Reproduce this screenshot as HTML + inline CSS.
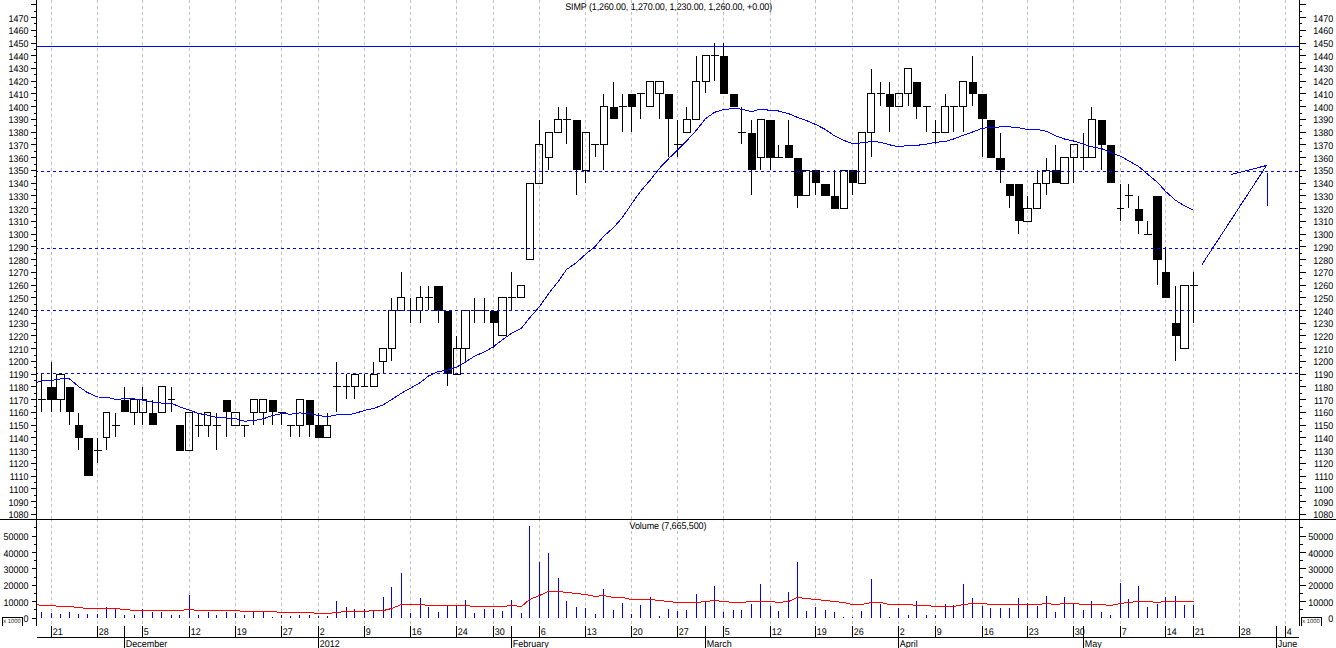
<!DOCTYPE html>
<html>
<head>
<meta charset="utf-8">
<title>SIMP chart</title>
<style>
html,body{margin:0;padding:0;background:#ffffff;}
body{width:1336px;height:648px;overflow:hidden;font-family:"Liberation Sans",sans-serif;}
svg{display:block;}
</style>
</head>
<body>
<svg width="1336" height="648" viewBox="0 0 1336 648" shape-rendering="crispEdges">
<defs><clipPath id="pp"><rect x="0" y="0" width="1336" height="519"/></clipPath></defs>
<rect x="0" y="0" width="1336" height="648" fill="#ffffff"/>
<g stroke="#c0c0c0" stroke-width="1" stroke-dasharray="3 3" fill="none">
<path d="M51.5 0V519"/><path d="M51.5 520V624" stroke-dashoffset="1"/>
<path d="M97.5 0V519"/><path d="M97.5 520V624" stroke-dashoffset="1"/>
<path d="M142.5 0V519"/><path d="M142.5 520V624" stroke-dashoffset="1"/>
<path d="M189.5 0V519"/><path d="M189.5 520V624" stroke-dashoffset="1"/>
<path d="M235.5 0V519"/><path d="M235.5 520V624" stroke-dashoffset="1"/>
<path d="M281.5 0V519"/><path d="M281.5 520V624" stroke-dashoffset="1"/>
<path d="M318.5 0V519"/><path d="M318.5 520V624" stroke-dashoffset="1"/>
<path d="M364.5 0V519"/><path d="M364.5 520V624" stroke-dashoffset="1"/>
<path d="M410.5 0V519"/><path d="M410.5 520V624" stroke-dashoffset="1"/>
<path d="M456.5 0V519"/><path d="M456.5 520V624" stroke-dashoffset="1"/>
<path d="M493.5 0V519"/><path d="M493.5 520V624" stroke-dashoffset="1"/>
<path d="M539.5 0V519"/><path d="M539.5 520V624" stroke-dashoffset="1"/>
<path d="M585.5 0V519"/><path d="M585.5 520V624" stroke-dashoffset="1"/>
<path d="M631.5 0V519"/><path d="M631.5 520V624" stroke-dashoffset="1"/>
<path d="M677.5 0V519"/><path d="M677.5 520V624" stroke-dashoffset="1"/>
<path d="M723.5 0V519"/><path d="M723.5 520V624" stroke-dashoffset="1"/>
<path d="M770.5 0V519"/><path d="M770.5 520V624" stroke-dashoffset="1"/>
<path d="M815.5 0V519"/><path d="M815.5 520V624" stroke-dashoffset="1"/>
<path d="M852.5 0V519"/><path d="M852.5 520V624" stroke-dashoffset="1"/>
<path d="M898.5 0V519"/><path d="M898.5 520V624" stroke-dashoffset="1"/>
<path d="M935.5 0V519"/><path d="M935.5 520V624" stroke-dashoffset="1"/>
<path d="M982.5 0V519"/><path d="M982.5 520V624" stroke-dashoffset="1"/>
<path d="M1027.5 0V519"/><path d="M1027.5 520V624" stroke-dashoffset="1"/>
<path d="M1073.5 0V519"/><path d="M1073.5 520V624" stroke-dashoffset="1"/>
<path d="M1120.5 0V519"/><path d="M1120.5 520V624" stroke-dashoffset="1"/>
<path d="M1165.5 0V519"/><path d="M1165.5 520V624" stroke-dashoffset="1"/>
<path d="M1193.5 0V519"/><path d="M1193.5 520V624" stroke-dashoffset="1"/>
<path d="M1239.5 0V519"/><path d="M1239.5 520V624" stroke-dashoffset="1"/>
<path d="M1285.5 0V519"/><path d="M1285.5 520V624" stroke-dashoffset="1"/>
</g>
<g fill="#0000ff">
<rect x="41" y="612" width="1" height="6"/>
<rect x="51" y="613" width="1" height="5"/>
<rect x="60" y="614" width="1" height="4"/>
<rect x="69" y="612" width="1" height="6"/>
<rect x="78" y="614" width="1" height="4"/>
<rect x="87" y="614" width="1" height="4"/>
<rect x="97" y="614" width="1" height="4"/>
<rect x="106" y="607" width="1" height="11"/>
<rect x="115" y="609" width="1" height="9"/>
<rect x="124" y="615" width="1" height="3"/>
<rect x="134" y="615" width="1" height="3"/>
<rect x="142" y="609" width="1" height="9"/>
<rect x="152" y="612" width="1" height="6"/>
<rect x="161" y="612" width="1" height="6"/>
<rect x="171" y="615" width="1" height="3"/>
<rect x="179" y="615" width="1" height="3"/>
<rect x="189" y="595" width="1" height="23"/>
<rect x="198" y="615" width="1" height="3"/>
<rect x="208" y="612" width="1" height="6"/>
<rect x="216" y="615" width="1" height="3"/>
<rect x="226" y="612" width="1" height="6"/>
<rect x="235" y="613" width="1" height="5"/>
<rect x="244" y="615" width="1" height="3"/>
<rect x="253" y="611" width="1" height="7"/>
<rect x="263" y="611" width="1" height="7"/>
<rect x="272" y="617" width="1" height="1"/>
<rect x="281" y="615" width="1" height="3"/>
<rect x="290" y="616" width="1" height="2"/>
<rect x="299" y="615" width="1" height="3"/>
<rect x="309" y="615" width="1" height="3"/>
<rect x="318" y="616" width="1" height="2"/>
<rect x="327" y="616" width="1" height="2"/>
<rect x="336" y="601" width="1" height="17"/>
<rect x="346" y="607" width="1" height="11"/>
<rect x="354" y="609" width="1" height="9"/>
<rect x="364" y="609" width="1" height="9"/>
<rect x="373" y="611" width="1" height="7"/>
<rect x="383" y="597" width="1" height="21"/>
<rect x="391" y="587" width="1" height="31"/>
<rect x="401" y="573" width="1" height="45"/>
<rect x="410" y="613" width="1" height="5"/>
<rect x="420" y="598" width="1" height="20"/>
<rect x="428" y="607" width="1" height="11"/>
<rect x="438" y="612" width="1" height="6"/>
<rect x="447" y="606" width="1" height="12"/>
<rect x="456" y="605" width="1" height="13"/>
<rect x="465" y="600" width="1" height="18"/>
<rect x="474" y="613" width="1" height="5"/>
<rect x="484" y="609" width="1" height="9"/>
<rect x="493" y="609" width="1" height="9"/>
<rect x="502" y="611" width="1" height="7"/>
<rect x="511" y="600" width="1" height="18"/>
<rect x="521" y="613" width="1" height="5"/>
<rect x="529" y="526" width="1" height="92"/>
<rect x="539" y="562" width="1" height="56"/>
<rect x="548" y="553" width="1" height="65"/>
<rect x="558" y="578" width="1" height="40"/>
<rect x="566" y="601" width="1" height="17"/>
<rect x="576" y="607" width="1" height="11"/>
<rect x="585" y="608" width="1" height="10"/>
<rect x="595" y="614" width="1" height="4"/>
<rect x="603" y="589" width="1" height="29"/>
<rect x="613" y="610" width="1" height="8"/>
<rect x="622" y="603" width="1" height="15"/>
<rect x="631" y="614" width="1" height="4"/>
<rect x="640" y="605" width="1" height="13"/>
<rect x="650" y="597" width="1" height="21"/>
<rect x="659" y="616" width="1" height="2"/>
<rect x="668" y="609" width="1" height="9"/>
<rect x="677" y="611" width="1" height="7"/>
<rect x="686" y="610" width="1" height="8"/>
<rect x="696" y="594" width="1" height="24"/>
<rect x="705" y="602" width="1" height="16"/>
<rect x="714" y="586" width="1" height="32"/>
<rect x="723" y="612" width="1" height="6"/>
<rect x="733" y="610" width="1" height="8"/>
<rect x="741" y="610" width="1" height="8"/>
<rect x="751" y="604" width="1" height="14"/>
<rect x="760" y="584" width="1" height="34"/>
<rect x="770" y="606" width="1" height="12"/>
<rect x="778" y="611" width="1" height="7"/>
<rect x="788" y="592" width="1" height="26"/>
<rect x="797" y="562" width="1" height="56"/>
<rect x="806" y="611" width="1" height="7"/>
<rect x="815" y="607" width="1" height="11"/>
<rect x="825" y="610" width="1" height="8"/>
<rect x="834" y="612" width="1" height="6"/>
<rect x="843" y="617" width="1" height="1"/>
<rect x="852" y="617" width="1" height="1"/>
<rect x="861" y="611" width="1" height="7"/>
<rect x="871" y="579" width="1" height="39"/>
<rect x="880" y="604" width="1" height="14"/>
<rect x="889" y="617" width="1" height="1"/>
<rect x="898" y="608" width="1" height="10"/>
<rect x="908" y="615" width="1" height="3"/>
<rect x="916" y="601" width="1" height="17"/>
<rect x="926" y="615" width="1" height="3"/>
<rect x="935" y="615" width="1" height="3"/>
<rect x="945" y="604" width="1" height="14"/>
<rect x="953" y="605" width="1" height="13"/>
<rect x="963" y="584" width="1" height="34"/>
<rect x="972" y="598" width="1" height="20"/>
<rect x="982" y="606" width="1" height="12"/>
<rect x="990" y="608" width="1" height="10"/>
<rect x="1000" y="608" width="1" height="10"/>
<rect x="1009" y="608" width="1" height="10"/>
<rect x="1018" y="598" width="1" height="20"/>
<rect x="1027" y="603" width="1" height="15"/>
<rect x="1037" y="606" width="1" height="12"/>
<rect x="1046" y="596" width="1" height="22"/>
<rect x="1055" y="612" width="1" height="6"/>
<rect x="1064" y="597" width="1" height="21"/>
<rect x="1073" y="604" width="1" height="14"/>
<rect x="1083" y="610" width="1" height="8"/>
<rect x="1091" y="601" width="1" height="17"/>
<rect x="1101" y="612" width="1" height="6"/>
<rect x="1110" y="615" width="1" height="3"/>
<rect x="1120" y="583" width="1" height="35"/>
<rect x="1128" y="599" width="1" height="19"/>
<rect x="1138" y="586" width="1" height="32"/>
<rect x="1147" y="607" width="1" height="11"/>
<rect x="1157" y="604" width="1" height="14"/>
<rect x="1165" y="597" width="1" height="21"/>
<rect x="1175" y="596" width="1" height="22"/>
<rect x="1184" y="605" width="1" height="13"/>
<rect x="1193" y="605" width="1" height="13"/>
</g>
<polyline points="37,604.5 41.5,605.5 51.5,605.5 60.5,606.5 69.5,606.5 78.5,607.5 87.5,608.5 97.5,608.5 106.5,608.5 115.5,608.5 124.5,609.5 134.5,610.5 142.5,610.5 152.5,610.5 161.5,610.5 171.5,610.5 179.5,610.5 189.5,609.5 198.5,610.5 208.5,610.5 216.5,610.5 226.5,610.5 235.5,610.5 244.5,611.5 253.5,611.5 263.5,611.5 272.5,611.5 281.5,612.5 290.5,612.5 299.5,612.5 309.5,612.5 318.5,613.5 327.5,613.5 336.5,612.5 346.5,611.5 354.5,611.5 364.5,611.5 373.5,610.5 383.5,610.5 391.5,608.5 401.5,604.5 410.5,604.5 420.5,604.5 428.5,605.5 438.5,605.5 447.5,605.5 456.5,605.5 465.5,605.5 474.5,606.5 484.5,606.5 493.5,606.5 502.5,606.5 511.5,605.5 521.5,606.5 529.5,599.5 539.5,595.5 548.5,591.5 558.5,591.5 566.5,592.5 576.5,593.5 585.5,594.5 595.5,596.5 603.5,595.5 613.5,597.5 622.5,597.5 631.5,599.5 640.5,599.5 650.5,599.5 659.5,600.5 668.5,601.5 677.5,602.5 686.5,602.5 696.5,602.5 705.5,601.5 714.5,600.5 723.5,601.5 733.5,602.5 741.5,602.5 751.5,601.5 760.5,601.5 770.5,601.5 778.5,602.5 788.5,601.5 797.5,597.5 806.5,598.5 815.5,599.5 825.5,600.5 834.5,601.5 843.5,602.5 852.5,604.5 861.5,604.5 871.5,602.5 880.5,602.5 889.5,604.5 898.5,604.5 908.5,604.5 916.5,605.5 926.5,605.5 935.5,606.5 945.5,606.5 953.5,606.5 963.5,604.5 972.5,603.5 982.5,603.5 990.5,604.5 1000.5,604.5 1009.5,604.5 1018.5,604.5 1027.5,604.5 1037.5,604.5 1046.5,603.5 1055.5,604.5 1064.5,603.5 1073.5,603.5 1083.5,604.5 1091.5,604.5 1101.5,604.5 1110.5,605.5 1120.5,603.5 1128.5,602.5 1138.5,601.5 1147.5,601.5 1157.5,602.5 1165.5,601.5 1175.5,601.5 1184.5,601.5 1193.5,601.5" fill="none" stroke="#ff0000" stroke-width="1" shape-rendering="crispEdges"/>
<g fill="#000000">
<rect x="41" y="374" width="1" height="38"/>
<rect x="38" y="399" width="8" height="1"/>
<rect x="51" y="362" width="1" height="25"/>
<rect x="51" y="400" width="1" height="12"/>
<rect x="47" y="387" width="9" height="13"/>
<rect x="60" y="400" width="1" height="12"/>
<path d="M56 374h9v26h-9z M57 375v24h7v-24z" fill-rule="evenodd"/>
<rect x="69" y="412" width="1" height="13"/>
<rect x="66" y="387" width="8" height="25"/>
<rect x="78" y="413" width="1" height="12"/>
<rect x="78" y="438" width="1" height="12"/>
<rect x="75" y="425" width="8" height="13"/>
<rect x="84" y="438" width="9" height="38"/>
<rect x="97" y="438" width="1" height="25"/>
<rect x="94" y="450" width="8" height="1"/>
<rect x="106" y="438" width="1" height="12"/>
<path d="M103 412h7v26h-7z M104 413v24h5v-24z" fill-rule="evenodd"/>
<rect x="115" y="413" width="1" height="24"/>
<rect x="112" y="425" width="8" height="1"/>
<rect x="124" y="387" width="1" height="13"/>
<rect x="121" y="400" width="8" height="12"/>
<rect x="134" y="413" width="1" height="12"/>
<path d="M130 399h8v14h-8z M131 400v12h6v-12z" fill-rule="evenodd"/>
<rect x="142" y="387" width="1" height="12"/>
<rect x="142" y="413" width="1" height="12"/>
<path d="M139 399h8v14h-8z M140 400v12h6v-12z" fill-rule="evenodd"/>
<rect x="152" y="400" width="1" height="13"/>
<rect x="149" y="413" width="8" height="12"/>
<path d="M158 386h8v27h-8z M159 387v25h6v-25z" fill-rule="evenodd"/>
<rect x="171" y="387" width="1" height="25"/>
<rect x="168" y="399" width="7" height="1"/>
<rect x="176" y="425" width="8" height="26"/>
<path d="M185 412h8v39h-8z M186 413v37h6v-37z" fill-rule="evenodd"/>
<rect x="198" y="413" width="1" height="24"/>
<rect x="195" y="425" width="8" height="1"/>
<rect x="208" y="426" width="1" height="11"/>
<path d="M204 412h7v14h-7z M205 413v12h5v-12z" fill-rule="evenodd"/>
<rect x="216" y="413" width="1" height="37"/>
<rect x="213" y="425" width="8" height="1"/>
<rect x="226" y="412" width="1" height="25"/>
<rect x="223" y="400" width="8" height="12"/>
<path d="M231 412h9v14h-9z M232 413v12h7v-12z" fill-rule="evenodd"/>
<rect x="244" y="425" width="1" height="12"/>
<rect x="241" y="425" width="8" height="1"/>
<rect x="253" y="413" width="1" height="12"/>
<path d="M250 399h8v14h-8z M251 400v12h6v-12z" fill-rule="evenodd"/>
<rect x="263" y="413" width="1" height="12"/>
<path d="M259 399h8v14h-8z M260 400v12h6v-12z" fill-rule="evenodd"/>
<rect x="272" y="412" width="1" height="13"/>
<rect x="269" y="400" width="8" height="12"/>
<rect x="281" y="413" width="1" height="12"/>
<rect x="278" y="412" width="8" height="1"/>
<rect x="290" y="425" width="1" height="12"/>
<rect x="287" y="425" width="8" height="1"/>
<rect x="299" y="426" width="1" height="11"/>
<path d="M296 399h8v27h-8z M297 400v25h6v-25z" fill-rule="evenodd"/>
<rect x="309" y="425" width="1" height="12"/>
<rect x="306" y="400" width="8" height="25"/>
<rect x="318" y="413" width="1" height="12"/>
<rect x="315" y="425" width="8" height="13"/>
<rect x="327" y="413" width="1" height="12"/>
<path d="M323 425h8v13h-8z M324 426v11h6v-11z" fill-rule="evenodd"/>
<rect x="336" y="362" width="1" height="50"/>
<rect x="333" y="386" width="8" height="1"/>
<rect x="346" y="374" width="1" height="25"/>
<rect x="343" y="386" width="7" height="1"/>
<rect x="354" y="387" width="1" height="12"/>
<path d="M351 374h8v13h-8z M352 375v11h6v-11z" fill-rule="evenodd"/>
<rect x="364" y="374" width="1" height="12"/>
<rect x="361" y="386" width="7" height="1"/>
<rect x="373" y="362" width="1" height="12"/>
<path d="M370 374h8v13h-8z M371 375v11h6v-11z" fill-rule="evenodd"/>
<rect x="383" y="362" width="1" height="12"/>
<path d="M379 348h8v14h-8z M380 349v12h6v-12z" fill-rule="evenodd"/>
<rect x="391" y="298" width="1" height="12"/>
<rect x="391" y="349" width="1" height="12"/>
<path d="M388 310h8v39h-8z M389 311v37h6v-37z" fill-rule="evenodd"/>
<rect x="401" y="272" width="1" height="25"/>
<path d="M397 297h8v14h-8z M398 298v12h6v-12z" fill-rule="evenodd"/>
<rect x="410" y="298" width="1" height="25"/>
<rect x="407" y="310" width="8" height="1"/>
<rect x="420" y="286" width="1" height="11"/>
<rect x="420" y="311" width="1" height="12"/>
<path d="M416 297h7v14h-7z M417 298v12h5v-12z" fill-rule="evenodd"/>
<rect x="428" y="286" width="1" height="24"/>
<rect x="425" y="297" width="8" height="1"/>
<rect x="438" y="311" width="1" height="12"/>
<rect x="434" y="286" width="9" height="25"/>
<rect x="447" y="374" width="1" height="12"/>
<rect x="444" y="311" width="8" height="63"/>
<rect x="456" y="336" width="1" height="12"/>
<path d="M453 348h8v27h-8z M454 349v25h6v-25z" fill-rule="evenodd"/>
<rect x="465" y="349" width="1" height="12"/>
<path d="M461 310h9v39h-9z M462 311v37h7v-37z" fill-rule="evenodd"/>
<rect x="474" y="298" width="1" height="25"/>
<rect x="471" y="310" width="8" height="1"/>
<rect x="484" y="298" width="1" height="25"/>
<rect x="481" y="310" width="8" height="1"/>
<rect x="493" y="323" width="1" height="25"/>
<rect x="490" y="311" width="8" height="12"/>
<path d="M498 297h9v39h-9z M499 298v37h7v-37z" fill-rule="evenodd"/>
<rect x="511" y="272" width="1" height="38"/>
<rect x="508" y="297" width="8" height="1"/>
<path d="M517 285h8v13h-8z M518 286v11h6v-11z" fill-rule="evenodd"/>
<path d="M526 183h8v77h-8z M527 184v75h6v-75z" fill-rule="evenodd"/>
<rect x="539" y="120" width="1" height="24"/>
<path d="M535 144h8v40h-8z M536 145v38h6v-38z" fill-rule="evenodd"/>
<rect x="548" y="158" width="1" height="12"/>
<path d="M545 132h8v26h-8z M546 133v24h6v-24z" fill-rule="evenodd"/>
<rect x="558" y="107" width="1" height="12"/>
<path d="M554 119h8v14h-8z M555 120v12h6v-12z" fill-rule="evenodd"/>
<rect x="566" y="107" width="1" height="37"/>
<rect x="563" y="119" width="8" height="1"/>
<rect x="576" y="170" width="1" height="25"/>
<rect x="573" y="120" width="8" height="50"/>
<rect x="585" y="171" width="1" height="12"/>
<path d="M582 132h8v39h-8z M583 133v37h6v-37z" fill-rule="evenodd"/>
<rect x="595" y="145" width="1" height="12"/>
<rect x="591" y="144" width="8" height="1"/>
<rect x="603" y="94" width="1" height="12"/>
<rect x="603" y="145" width="1" height="25"/>
<path d="M600 106h8v39h-8z M601 107v37h6v-37z" fill-rule="evenodd"/>
<rect x="613" y="82" width="1" height="25"/>
<rect x="610" y="107" width="8" height="12"/>
<rect x="622" y="94" width="1" height="38"/>
<rect x="619" y="106" width="8" height="1"/>
<rect x="631" y="107" width="1" height="25"/>
<rect x="628" y="94" width="8" height="13"/>
<rect x="640" y="94" width="1" height="25"/>
<rect x="637" y="93" width="8" height="1"/>
<path d="M646 81h8v26h-8z M647 82v24h6v-24z" fill-rule="evenodd"/>
<rect x="659" y="94" width="1" height="25"/>
<path d="M655 81h9v13h-9z M656 82v11h7v-11z" fill-rule="evenodd"/>
<rect x="668" y="119" width="1" height="38"/>
<rect x="665" y="94" width="8" height="25"/>
<rect x="677" y="120" width="1" height="37"/>
<rect x="674" y="144" width="8" height="1"/>
<rect x="686" y="107" width="1" height="12"/>
<path d="M683 119h8v14h-8z M684 120v12h6v-12z" fill-rule="evenodd"/>
<rect x="696" y="56" width="1" height="25"/>
<path d="M692 81h8v39h-8z M693 82v37h6v-37z" fill-rule="evenodd"/>
<rect x="705" y="82" width="1" height="11"/>
<path d="M702 55h8v27h-8z M703 56v25h6v-25z" fill-rule="evenodd"/>
<rect x="714" y="43" width="1" height="38"/>
<rect x="711" y="55" width="8" height="1"/>
<rect x="723" y="43" width="1" height="13"/>
<rect x="720" y="56" width="8" height="38"/>
<rect x="730" y="94" width="8" height="13"/>
<rect x="741" y="107" width="1" height="37"/>
<rect x="738" y="132" width="8" height="1"/>
<rect x="751" y="120" width="1" height="13"/>
<rect x="751" y="170" width="1" height="25"/>
<rect x="748" y="133" width="8" height="37"/>
<rect x="760" y="158" width="1" height="12"/>
<path d="M757 119h8v39h-8z M758 120v37h6v-37z" fill-rule="evenodd"/>
<rect x="770" y="158" width="1" height="12"/>
<rect x="766" y="120" width="9" height="38"/>
<rect x="778" y="145" width="1" height="12"/>
<rect x="775" y="157" width="8" height="1"/>
<rect x="788" y="120" width="1" height="25"/>
<rect x="785" y="145" width="8" height="13"/>
<rect x="797" y="196" width="1" height="12"/>
<rect x="794" y="158" width="8" height="38"/>
<path d="M802 170h8v26h-8z M803 171v24h6v-24z" fill-rule="evenodd"/>
<rect x="815" y="183" width="1" height="12"/>
<rect x="812" y="170" width="8" height="13"/>
<rect x="821" y="184" width="9" height="12"/>
<rect x="834" y="170" width="1" height="26"/>
<rect x="831" y="196" width="8" height="13"/>
<path d="M840 170h8v39h-8z M841 171v37h6v-37z" fill-rule="evenodd"/>
<rect x="852" y="183" width="1" height="12"/>
<rect x="849" y="170" width="8" height="13"/>
<path d="M858 132h8v52h-8z M859 133v50h6v-50z" fill-rule="evenodd"/>
<rect x="871" y="69" width="1" height="24"/>
<rect x="871" y="133" width="1" height="24"/>
<path d="M867 93h8v40h-8z M868 94v38h6v-38z" fill-rule="evenodd"/>
<rect x="880" y="82" width="1" height="24"/>
<rect x="877" y="93" width="8" height="1"/>
<rect x="889" y="82" width="1" height="12"/>
<rect x="889" y="107" width="1" height="25"/>
<rect x="886" y="94" width="8" height="13"/>
<path d="M895 93h8v14h-8z M896 94v12h6v-12z" fill-rule="evenodd"/>
<rect x="908" y="94" width="1" height="12"/>
<path d="M904 68h8v26h-8z M905 69v24h6v-24z" fill-rule="evenodd"/>
<rect x="916" y="107" width="1" height="12"/>
<rect x="913" y="82" width="8" height="25"/>
<rect x="926" y="107" width="1" height="25"/>
<rect x="923" y="106" width="8" height="1"/>
<rect x="935" y="120" width="1" height="24"/>
<rect x="932" y="132" width="8" height="1"/>
<rect x="945" y="94" width="1" height="12"/>
<path d="M941 106h8v27h-8z M942 107v25h6v-25z" fill-rule="evenodd"/>
<rect x="953" y="107" width="1" height="25"/>
<rect x="950" y="106" width="8" height="1"/>
<rect x="963" y="107" width="1" height="25"/>
<path d="M959 81h8v26h-8z M960 82v24h6v-24z" fill-rule="evenodd"/>
<rect x="972" y="56" width="1" height="26"/>
<rect x="972" y="94" width="1" height="12"/>
<rect x="969" y="82" width="8" height="12"/>
<rect x="982" y="119" width="1" height="38"/>
<rect x="978" y="94" width="9" height="25"/>
<rect x="987" y="120" width="8" height="38"/>
<rect x="1000" y="133" width="1" height="25"/>
<rect x="1000" y="170" width="1" height="13"/>
<rect x="996" y="158" width="9" height="12"/>
<rect x="1009" y="196" width="1" height="12"/>
<rect x="1006" y="184" width="8" height="12"/>
<rect x="1018" y="221" width="1" height="13"/>
<rect x="1015" y="184" width="8" height="37"/>
<rect x="1027" y="196" width="1" height="12"/>
<path d="M1023 208h9v14h-9z M1024 209v12h7v-12z" fill-rule="evenodd"/>
<rect x="1037" y="170" width="1" height="13"/>
<path d="M1033 183h8v26h-8z M1034 184v24h6v-24z" fill-rule="evenodd"/>
<rect x="1046" y="158" width="1" height="12"/>
<rect x="1046" y="184" width="1" height="11"/>
<path d="M1042 170h8v14h-8z M1043 171v12h6v-12z" fill-rule="evenodd"/>
<rect x="1055" y="145" width="1" height="25"/>
<rect x="1052" y="170" width="8" height="13"/>
<path d="M1060 157h9v27h-9z M1061 158v25h7v-25z" fill-rule="evenodd"/>
<rect x="1073" y="158" width="1" height="25"/>
<path d="M1070 144h8v14h-8z M1071 145v12h6v-12z" fill-rule="evenodd"/>
<rect x="1083" y="133" width="1" height="37"/>
<rect x="1080" y="157" width="8" height="1"/>
<rect x="1091" y="107" width="1" height="12"/>
<path d="M1088 119h8v39h-8z M1089 120v37h6v-37z" fill-rule="evenodd"/>
<rect x="1101" y="145" width="1" height="25"/>
<rect x="1098" y="120" width="8" height="25"/>
<rect x="1107" y="145" width="8" height="38"/>
<rect x="1120" y="184" width="1" height="37"/>
<rect x="1117" y="208" width="7" height="1"/>
<rect x="1128" y="184" width="1" height="24"/>
<rect x="1125" y="195" width="8" height="1"/>
<rect x="1138" y="196" width="1" height="13"/>
<rect x="1138" y="221" width="1" height="13"/>
<rect x="1135" y="209" width="8" height="12"/>
<rect x="1147" y="221" width="1" height="13"/>
<rect x="1144" y="234" width="8" height="1"/>
<rect x="1157" y="260" width="1" height="25"/>
<rect x="1153" y="196" width="9" height="64"/>
<rect x="1165" y="247" width="1" height="25"/>
<rect x="1162" y="272" width="8" height="26"/>
<rect x="1175" y="286" width="1" height="37"/>
<rect x="1175" y="336" width="1" height="25"/>
<rect x="1172" y="323" width="8" height="13"/>
<path d="M1180 285h9v64h-9z M1181 286v62h7v-62z" fill-rule="evenodd"/>
<rect x="1193" y="272" width="1" height="51"/>
<rect x="1190" y="285" width="8" height="1"/>
</g>
<rect x="37" y="46" width="1262" height="1" fill="#0000ff"/>
<path d="M37 171.5H1299" stroke="#0000ff" stroke-width="1" stroke-dasharray="3 3" stroke-dashoffset="2" fill="none"/>
<path d="M37 248.5H1299" stroke="#0000ff" stroke-width="1" stroke-dasharray="3 3" stroke-dashoffset="2" fill="none"/>
<path d="M37 310.5H1299" stroke="#0000ff" stroke-width="1" stroke-dasharray="3 3" stroke-dashoffset="2" fill="none"/>
<path d="M37 373.5H1299" stroke="#0000ff" stroke-width="1" stroke-dasharray="3 3" stroke-dashoffset="2" fill="none"/>
<polyline points="37,382.5 41.5,380.8 51.5,380.5 60.5,378.9 69.5,378.9 78.5,386.5 87.5,392.6 97.5,397.0 106.5,397.1 115.5,399.5 124.5,398.7 134.5,399.0 142.5,400.0 152.5,402.1 161.5,403.1 171.5,403.3 179.5,406.7 189.5,410.1 198.5,413.5 208.5,415.2 216.5,417.4 226.5,418.0 235.5,418.7 244.5,421.2 253.5,420.6 263.5,418.7 272.5,415.5 281.5,413.6 290.5,414.2 299.5,412.9 309.5,413.6 318.5,415.5 327.5,416.8 336.5,414.8 346.5,414.8 354.5,413.6 364.5,410.4 373.5,408.5 383.5,404.7 391.5,399.6 401.5,393.2 410.5,388.1 420.5,382.4 428.5,376.0 438.5,371.5 447.5,370.3 456.5,367.1 465.5,362.0 474.5,356.2 484.5,351.8 493.5,346.7 502.5,339.7 511.5,333.3 521.5,328.2 529.5,318.0 539.5,306.6 548.5,293.8 558.5,281.1 566.5,269.6 576.5,262.6 585.5,254.3 595.5,246.1 603.5,236.5 613.5,227.6 622.5,217.4 631.5,204.0 640.5,191.3 650.5,179.8 659.5,168.3 668.5,158.8 677.5,149.9 686.5,141.0 696.5,130.1 705.5,118.7 714.5,112.3 723.5,109.7 733.5,108.5 741.5,109.1 751.5,111.7 760.5,109.1 770.5,110.4 778.5,111.0 788.5,113.6 797.5,117.4 806.5,120.6 815.5,124.4 825.5,129.5 834.5,135.9 843.5,140.3 852.5,143.5 861.5,142.9 871.5,141.6 880.5,142.2 889.5,144.8 898.5,146.7 908.5,145.4 916.5,145.4 926.5,144.1 935.5,142.2 945.5,141.6 953.5,139.0 963.5,135.2 972.5,132.0 982.5,128.2 990.5,127.6 1000.5,126.9 1009.5,126.9 1018.5,127.6 1027.5,129.5 1037.5,129.5 1046.5,131.4 1055.5,135.9 1064.5,139.0 1073.5,141.0 1083.5,144.1 1091.5,146.7 1101.5,148.6 1110.5,152.4 1120.5,156.2 1128.5,160.7 1138.5,166.4 1147.5,174.1 1157.5,182.4 1165.5,191.3 1175.5,200.2 1184.5,205.9 1193.5,210.4" fill="none" stroke="#0000ff" stroke-width="1" shape-rendering="crispEdges"/>
<g stroke="#0000ff" stroke-width="1" fill="none" shape-rendering="crispEdges">
<path d="M1202 264.5L1266.5 165.5L1231 174.5"/>
<path d="M1267.5 173V206"/>
</g>
<g fill="#000000">
<rect x="36" y="0" width="1" height="626"/>
<rect x="1299" y="0" width="1" height="626"/>
<rect x="0" y="519" width="1336" height="1"/>
<rect x="37" y="637" width="1262" height="1"/>
<rect x="31" y="514" width="5" height="1"/>
<rect x="1300" y="514" width="6" height="1"/>
<rect x="34" y="507" width="2" height="1"/>
<rect x="1300" y="507" width="2" height="1"/>
<rect x="31" y="501" width="5" height="1"/>
<rect x="1300" y="501" width="6" height="1"/>
<rect x="34" y="495" width="2" height="1"/>
<rect x="1300" y="495" width="2" height="1"/>
<rect x="31" y="488" width="5" height="1"/>
<rect x="1300" y="488" width="6" height="1"/>
<rect x="34" y="482" width="2" height="1"/>
<rect x="1300" y="482" width="2" height="1"/>
<rect x="31" y="476" width="5" height="1"/>
<rect x="1300" y="476" width="6" height="1"/>
<rect x="34" y="469" width="2" height="1"/>
<rect x="1300" y="469" width="2" height="1"/>
<rect x="31" y="463" width="5" height="1"/>
<rect x="1300" y="463" width="6" height="1"/>
<rect x="34" y="457" width="2" height="1"/>
<rect x="1300" y="457" width="2" height="1"/>
<rect x="31" y="450" width="5" height="1"/>
<rect x="1300" y="450" width="6" height="1"/>
<rect x="34" y="444" width="2" height="1"/>
<rect x="1300" y="444" width="2" height="1"/>
<rect x="31" y="437" width="5" height="1"/>
<rect x="1300" y="437" width="6" height="1"/>
<rect x="34" y="431" width="2" height="1"/>
<rect x="1300" y="431" width="2" height="1"/>
<rect x="31" y="425" width="5" height="1"/>
<rect x="1300" y="425" width="6" height="1"/>
<rect x="34" y="418" width="2" height="1"/>
<rect x="1300" y="418" width="2" height="1"/>
<rect x="31" y="412" width="5" height="1"/>
<rect x="1300" y="412" width="6" height="1"/>
<rect x="34" y="406" width="2" height="1"/>
<rect x="1300" y="406" width="2" height="1"/>
<rect x="31" y="399" width="5" height="1"/>
<rect x="1300" y="399" width="6" height="1"/>
<rect x="34" y="393" width="2" height="1"/>
<rect x="1300" y="393" width="2" height="1"/>
<rect x="31" y="386" width="5" height="1"/>
<rect x="1300" y="386" width="6" height="1"/>
<rect x="34" y="380" width="2" height="1"/>
<rect x="1300" y="380" width="2" height="1"/>
<rect x="31" y="374" width="5" height="1"/>
<rect x="1300" y="374" width="6" height="1"/>
<rect x="34" y="367" width="2" height="1"/>
<rect x="1300" y="367" width="2" height="1"/>
<rect x="31" y="361" width="5" height="1"/>
<rect x="1300" y="361" width="6" height="1"/>
<rect x="34" y="355" width="2" height="1"/>
<rect x="1300" y="355" width="2" height="1"/>
<rect x="31" y="348" width="5" height="1"/>
<rect x="1300" y="348" width="6" height="1"/>
<rect x="34" y="342" width="2" height="1"/>
<rect x="1300" y="342" width="2" height="1"/>
<rect x="31" y="335" width="5" height="1"/>
<rect x="1300" y="335" width="6" height="1"/>
<rect x="34" y="329" width="2" height="1"/>
<rect x="1300" y="329" width="2" height="1"/>
<rect x="31" y="323" width="5" height="1"/>
<rect x="1300" y="323" width="6" height="1"/>
<rect x="34" y="316" width="2" height="1"/>
<rect x="1300" y="316" width="2" height="1"/>
<rect x="31" y="310" width="5" height="1"/>
<rect x="1300" y="310" width="6" height="1"/>
<rect x="34" y="304" width="2" height="1"/>
<rect x="1300" y="304" width="2" height="1"/>
<rect x="31" y="297" width="5" height="1"/>
<rect x="1300" y="297" width="6" height="1"/>
<rect x="34" y="291" width="2" height="1"/>
<rect x="1300" y="291" width="2" height="1"/>
<rect x="31" y="285" width="5" height="1"/>
<rect x="1300" y="285" width="6" height="1"/>
<rect x="34" y="278" width="2" height="1"/>
<rect x="1300" y="278" width="2" height="1"/>
<rect x="31" y="272" width="5" height="1"/>
<rect x="1300" y="272" width="6" height="1"/>
<rect x="34" y="265" width="2" height="1"/>
<rect x="1300" y="265" width="2" height="1"/>
<rect x="31" y="259" width="5" height="1"/>
<rect x="1300" y="259" width="6" height="1"/>
<rect x="34" y="253" width="2" height="1"/>
<rect x="1300" y="253" width="2" height="1"/>
<rect x="31" y="246" width="5" height="1"/>
<rect x="1300" y="246" width="6" height="1"/>
<rect x="34" y="240" width="2" height="1"/>
<rect x="1300" y="240" width="2" height="1"/>
<rect x="31" y="234" width="5" height="1"/>
<rect x="1300" y="234" width="6" height="1"/>
<rect x="34" y="227" width="2" height="1"/>
<rect x="1300" y="227" width="2" height="1"/>
<rect x="31" y="221" width="5" height="1"/>
<rect x="1300" y="221" width="6" height="1"/>
<rect x="34" y="214" width="2" height="1"/>
<rect x="1300" y="214" width="2" height="1"/>
<rect x="31" y="208" width="5" height="1"/>
<rect x="1300" y="208" width="6" height="1"/>
<rect x="34" y="202" width="2" height="1"/>
<rect x="1300" y="202" width="2" height="1"/>
<rect x="31" y="195" width="5" height="1"/>
<rect x="1300" y="195" width="6" height="1"/>
<rect x="34" y="189" width="2" height="1"/>
<rect x="1300" y="189" width="2" height="1"/>
<rect x="31" y="183" width="5" height="1"/>
<rect x="1300" y="183" width="6" height="1"/>
<rect x="34" y="176" width="2" height="1"/>
<rect x="1300" y="176" width="2" height="1"/>
<rect x="31" y="170" width="5" height="1"/>
<rect x="1300" y="170" width="6" height="1"/>
<rect x="34" y="164" width="2" height="1"/>
<rect x="1300" y="164" width="2" height="1"/>
<rect x="31" y="157" width="5" height="1"/>
<rect x="1300" y="157" width="6" height="1"/>
<rect x="34" y="151" width="2" height="1"/>
<rect x="1300" y="151" width="2" height="1"/>
<rect x="31" y="144" width="5" height="1"/>
<rect x="1300" y="144" width="6" height="1"/>
<rect x="34" y="138" width="2" height="1"/>
<rect x="1300" y="138" width="2" height="1"/>
<rect x="31" y="132" width="5" height="1"/>
<rect x="1300" y="132" width="6" height="1"/>
<rect x="34" y="125" width="2" height="1"/>
<rect x="1300" y="125" width="2" height="1"/>
<rect x="31" y="119" width="5" height="1"/>
<rect x="1300" y="119" width="6" height="1"/>
<rect x="34" y="113" width="2" height="1"/>
<rect x="1300" y="113" width="2" height="1"/>
<rect x="31" y="106" width="5" height="1"/>
<rect x="1300" y="106" width="6" height="1"/>
<rect x="34" y="100" width="2" height="1"/>
<rect x="1300" y="100" width="2" height="1"/>
<rect x="31" y="93" width="5" height="1"/>
<rect x="1300" y="93" width="6" height="1"/>
<rect x="34" y="87" width="2" height="1"/>
<rect x="1300" y="87" width="2" height="1"/>
<rect x="31" y="81" width="5" height="1"/>
<rect x="1300" y="81" width="6" height="1"/>
<rect x="34" y="74" width="2" height="1"/>
<rect x="1300" y="74" width="2" height="1"/>
<rect x="31" y="68" width="5" height="1"/>
<rect x="1300" y="68" width="6" height="1"/>
<rect x="34" y="62" width="2" height="1"/>
<rect x="1300" y="62" width="2" height="1"/>
<rect x="31" y="55" width="5" height="1"/>
<rect x="1300" y="55" width="6" height="1"/>
<rect x="34" y="49" width="2" height="1"/>
<rect x="1300" y="49" width="2" height="1"/>
<rect x="31" y="43" width="5" height="1"/>
<rect x="1300" y="43" width="6" height="1"/>
<rect x="34" y="36" width="2" height="1"/>
<rect x="1300" y="36" width="2" height="1"/>
<rect x="31" y="30" width="5" height="1"/>
<rect x="1300" y="30" width="6" height="1"/>
<rect x="34" y="23" width="2" height="1"/>
<rect x="1300" y="23" width="2" height="1"/>
<rect x="31" y="17" width="5" height="1"/>
<rect x="1300" y="17" width="6" height="1"/>
<rect x="34" y="11" width="2" height="1"/>
<rect x="1300" y="11" width="2" height="1"/>
<rect x="31" y="4" width="5" height="1"/>
<rect x="1300" y="4" width="6" height="1"/>
<rect x="32" y="618" width="4" height="1"/>
<rect x="34" y="609" width="2" height="1"/>
<rect x="1300" y="609" width="3" height="1"/>
<rect x="32" y="601" width="4" height="1"/>
<rect x="1300" y="601" width="6" height="1"/>
<rect x="34" y="593" width="2" height="1"/>
<rect x="1300" y="593" width="3" height="1"/>
<rect x="32" y="585" width="4" height="1"/>
<rect x="1300" y="585" width="6" height="1"/>
<rect x="34" y="577" width="2" height="1"/>
<rect x="1300" y="577" width="3" height="1"/>
<rect x="32" y="568" width="4" height="1"/>
<rect x="1300" y="568" width="6" height="1"/>
<rect x="34" y="560" width="2" height="1"/>
<rect x="1300" y="560" width="3" height="1"/>
<rect x="32" y="552" width="4" height="1"/>
<rect x="1300" y="552" width="6" height="1"/>
<rect x="34" y="544" width="2" height="1"/>
<rect x="1300" y="544" width="3" height="1"/>
<rect x="32" y="536" width="4" height="1"/>
<rect x="1300" y="536" width="6" height="1"/>
<rect x="34" y="527" width="2" height="1"/>
<rect x="1300" y="527" width="3" height="1"/>
<rect x="51" y="626" width="1" height="11"/>
<rect x="97" y="626" width="1" height="11"/>
<rect x="142" y="626" width="1" height="11"/>
<rect x="189" y="626" width="1" height="11"/>
<rect x="235" y="626" width="1" height="11"/>
<rect x="281" y="626" width="1" height="11"/>
<rect x="318" y="626" width="1" height="11"/>
<rect x="364" y="626" width="1" height="11"/>
<rect x="410" y="626" width="1" height="11"/>
<rect x="456" y="626" width="1" height="11"/>
<rect x="493" y="626" width="1" height="11"/>
<rect x="539" y="626" width="1" height="11"/>
<rect x="585" y="626" width="1" height="11"/>
<rect x="631" y="626" width="1" height="11"/>
<rect x="677" y="626" width="1" height="11"/>
<rect x="723" y="626" width="1" height="11"/>
<rect x="770" y="626" width="1" height="11"/>
<rect x="815" y="626" width="1" height="11"/>
<rect x="852" y="626" width="1" height="11"/>
<rect x="898" y="626" width="1" height="11"/>
<rect x="935" y="626" width="1" height="11"/>
<rect x="982" y="626" width="1" height="11"/>
<rect x="1027" y="626" width="1" height="11"/>
<rect x="1073" y="626" width="1" height="11"/>
<rect x="1120" y="626" width="1" height="11"/>
<rect x="1165" y="626" width="1" height="11"/>
<rect x="1193" y="626" width="1" height="11"/>
<rect x="1239" y="626" width="1" height="11"/>
<rect x="1285" y="626" width="1" height="11"/>
<rect x="124" y="626" width="1" height="22"/>
<rect x="318" y="626" width="1" height="22"/>
<rect x="511" y="626" width="1" height="22"/>
<rect x="705" y="626" width="1" height="22"/>
<rect x="898" y="626" width="1" height="22"/>
<rect x="1083" y="626" width="1" height="22"/>
<rect x="1276" y="626" width="1" height="22"/>
<rect x="2" y="617" width="21" height="1"/>
<rect x="2" y="617" width="1" height="9"/>
<rect x="22" y="617" width="1" height="9"/>
<rect x="1301" y="617" width="21" height="1"/>
<rect x="1301" y="617" width="1" height="9"/>
<rect x="1321" y="617" width="1" height="9"/>
</g>
<g font-family="Liberation Sans, sans-serif" font-size="9.7" fill="#000" text-rendering="geometricPrecision">
<g clip-path="url(#pp)">
<text transform="translate(28.40,518) scale(0.925,1)" text-anchor="end">1080</text>
<text transform="translate(1333.20,518) scale(0.925,1)" text-anchor="end">1080</text>
<text transform="translate(28.40,506) scale(0.925,1)" text-anchor="end">1090</text>
<text transform="translate(1333.20,506) scale(0.925,1)" text-anchor="end">1090</text>
<text transform="translate(28.40,493) scale(0.925,1)" text-anchor="end">1100</text>
<text transform="translate(1333.20,493) scale(0.925,1)" text-anchor="end">1100</text>
<text transform="translate(28.40,480) scale(0.925,1)" text-anchor="end">1110</text>
<text transform="translate(1333.20,480) scale(0.925,1)" text-anchor="end">1110</text>
<text transform="translate(28.40,467) scale(0.925,1)" text-anchor="end">1120</text>
<text transform="translate(1333.20,467) scale(0.925,1)" text-anchor="end">1120</text>
<text transform="translate(28.40,455) scale(0.925,1)" text-anchor="end">1130</text>
<text transform="translate(1333.20,455) scale(0.925,1)" text-anchor="end">1130</text>
<text transform="translate(28.40,442) scale(0.925,1)" text-anchor="end">1140</text>
<text transform="translate(1333.20,442) scale(0.925,1)" text-anchor="end">1140</text>
<text transform="translate(28.40,429) scale(0.925,1)" text-anchor="end">1150</text>
<text transform="translate(1333.20,429) scale(0.925,1)" text-anchor="end">1150</text>
<text transform="translate(28.40,416) scale(0.925,1)" text-anchor="end">1160</text>
<text transform="translate(1333.20,416) scale(0.925,1)" text-anchor="end">1160</text>
<text transform="translate(28.40,404) scale(0.925,1)" text-anchor="end">1170</text>
<text transform="translate(1333.20,404) scale(0.925,1)" text-anchor="end">1170</text>
<text transform="translate(28.40,391) scale(0.925,1)" text-anchor="end">1180</text>
<text transform="translate(1333.20,391) scale(0.925,1)" text-anchor="end">1180</text>
<text transform="translate(28.40,378) scale(0.925,1)" text-anchor="end">1190</text>
<text transform="translate(1333.20,378) scale(0.925,1)" text-anchor="end">1190</text>
<text transform="translate(28.40,365) scale(0.925,1)" text-anchor="end">1200</text>
<text transform="translate(1333.20,365) scale(0.925,1)" text-anchor="end">1200</text>
<text transform="translate(28.40,353) scale(0.925,1)" text-anchor="end">1210</text>
<text transform="translate(1333.20,353) scale(0.925,1)" text-anchor="end">1210</text>
<text transform="translate(28.40,340) scale(0.925,1)" text-anchor="end">1220</text>
<text transform="translate(1333.20,340) scale(0.925,1)" text-anchor="end">1220</text>
<text transform="translate(28.40,327) scale(0.925,1)" text-anchor="end">1230</text>
<text transform="translate(1333.20,327) scale(0.925,1)" text-anchor="end">1230</text>
<text transform="translate(28.40,315) scale(0.925,1)" text-anchor="end">1240</text>
<text transform="translate(1333.20,315) scale(0.925,1)" text-anchor="end">1240</text>
<text transform="translate(28.40,302) scale(0.925,1)" text-anchor="end">1250</text>
<text transform="translate(1333.20,302) scale(0.925,1)" text-anchor="end">1250</text>
<text transform="translate(28.40,289) scale(0.925,1)" text-anchor="end">1260</text>
<text transform="translate(1333.20,289) scale(0.925,1)" text-anchor="end">1260</text>
<text transform="translate(28.40,276) scale(0.925,1)" text-anchor="end">1270</text>
<text transform="translate(1333.20,276) scale(0.925,1)" text-anchor="end">1270</text>
<text transform="translate(28.40,264) scale(0.925,1)" text-anchor="end">1280</text>
<text transform="translate(1333.20,264) scale(0.925,1)" text-anchor="end">1280</text>
<text transform="translate(28.40,251) scale(0.925,1)" text-anchor="end">1290</text>
<text transform="translate(1333.20,251) scale(0.925,1)" text-anchor="end">1290</text>
<text transform="translate(28.40,238) scale(0.925,1)" text-anchor="end">1300</text>
<text transform="translate(1333.20,238) scale(0.925,1)" text-anchor="end">1300</text>
<text transform="translate(28.40,225) scale(0.925,1)" text-anchor="end">1310</text>
<text transform="translate(1333.20,225) scale(0.925,1)" text-anchor="end">1310</text>
<text transform="translate(28.40,213) scale(0.925,1)" text-anchor="end">1320</text>
<text transform="translate(1333.20,213) scale(0.925,1)" text-anchor="end">1320</text>
<text transform="translate(28.40,200) scale(0.925,1)" text-anchor="end">1330</text>
<text transform="translate(1333.20,200) scale(0.925,1)" text-anchor="end">1330</text>
<text transform="translate(28.40,187) scale(0.925,1)" text-anchor="end">1340</text>
<text transform="translate(1333.20,187) scale(0.925,1)" text-anchor="end">1340</text>
<text transform="translate(28.40,174) scale(0.925,1)" text-anchor="end">1350</text>
<text transform="translate(1333.20,174) scale(0.925,1)" text-anchor="end">1350</text>
<text transform="translate(28.40,162) scale(0.925,1)" text-anchor="end">1360</text>
<text transform="translate(1333.20,162) scale(0.925,1)" text-anchor="end">1360</text>
<text transform="translate(28.40,149) scale(0.925,1)" text-anchor="end">1370</text>
<text transform="translate(1333.20,149) scale(0.925,1)" text-anchor="end">1370</text>
<text transform="translate(28.40,136) scale(0.925,1)" text-anchor="end">1380</text>
<text transform="translate(1333.20,136) scale(0.925,1)" text-anchor="end">1380</text>
<text transform="translate(28.40,123) scale(0.925,1)" text-anchor="end">1390</text>
<text transform="translate(1333.20,123) scale(0.925,1)" text-anchor="end">1390</text>
<text transform="translate(28.40,111) scale(0.925,1)" text-anchor="end">1400</text>
<text transform="translate(1333.20,111) scale(0.925,1)" text-anchor="end">1400</text>
<text transform="translate(28.40,98) scale(0.925,1)" text-anchor="end">1410</text>
<text transform="translate(1333.20,98) scale(0.925,1)" text-anchor="end">1410</text>
<text transform="translate(28.40,85) scale(0.925,1)" text-anchor="end">1420</text>
<text transform="translate(1333.20,85) scale(0.925,1)" text-anchor="end">1420</text>
<text transform="translate(28.40,72) scale(0.925,1)" text-anchor="end">1430</text>
<text transform="translate(1333.20,72) scale(0.925,1)" text-anchor="end">1430</text>
<text transform="translate(28.40,60) scale(0.925,1)" text-anchor="end">1440</text>
<text transform="translate(1333.20,60) scale(0.925,1)" text-anchor="end">1440</text>
<text transform="translate(28.40,47) scale(0.925,1)" text-anchor="end">1450</text>
<text transform="translate(1333.20,47) scale(0.925,1)" text-anchor="end">1450</text>
<text transform="translate(28.40,34) scale(0.925,1)" text-anchor="end">1460</text>
<text transform="translate(1333.20,34) scale(0.925,1)" text-anchor="end">1460</text>
<text transform="translate(28.40,22) scale(0.925,1)" text-anchor="end">1470</text>
<text transform="translate(1333.20,22) scale(0.925,1)" text-anchor="end">1470</text>
</g>
<text transform="translate(28.40,622) scale(0.925,1)" text-anchor="end">0</text>
<text transform="translate(1333.20,622) scale(0.925,1)" text-anchor="end">0</text>
<text transform="translate(28.40,606) scale(0.925,1)" text-anchor="end">10000</text>
<text transform="translate(1333.20,606) scale(0.925,1)" text-anchor="end">10000</text>
<text transform="translate(28.40,589) scale(0.925,1)" text-anchor="end">20000</text>
<text transform="translate(1333.20,589) scale(0.925,1)" text-anchor="end">20000</text>
<text transform="translate(28.40,573) scale(0.925,1)" text-anchor="end">30000</text>
<text transform="translate(1333.20,573) scale(0.925,1)" text-anchor="end">30000</text>
<text transform="translate(28.40,557) scale(0.925,1)" text-anchor="end">40000</text>
<text transform="translate(1333.20,557) scale(0.925,1)" text-anchor="end">40000</text>
<text transform="translate(28.40,540) scale(0.925,1)" text-anchor="end">50000</text>
<text transform="translate(1333.20,540) scale(0.925,1)" text-anchor="end">50000</text>
<text transform="translate(52.80,635) scale(0.925,1)" text-anchor="start">21</text>
<text transform="translate(98.80,635) scale(0.925,1)" text-anchor="start">28</text>
<text transform="translate(143.80,635) scale(0.925,1)" text-anchor="start">5</text>
<text transform="translate(190.80,635) scale(0.925,1)" text-anchor="start">12</text>
<text transform="translate(236.80,635) scale(0.925,1)" text-anchor="start">19</text>
<text transform="translate(282.80,635) scale(0.925,1)" text-anchor="start">27</text>
<text transform="translate(319.80,635) scale(0.925,1)" text-anchor="start">2</text>
<text transform="translate(365.80,635) scale(0.925,1)" text-anchor="start">9</text>
<text transform="translate(411.80,635) scale(0.925,1)" text-anchor="start">16</text>
<text transform="translate(457.80,635) scale(0.925,1)" text-anchor="start">24</text>
<text transform="translate(494.80,635) scale(0.925,1)" text-anchor="start">30</text>
<text transform="translate(540.80,635) scale(0.925,1)" text-anchor="start">6</text>
<text transform="translate(586.80,635) scale(0.925,1)" text-anchor="start">13</text>
<text transform="translate(632.80,635) scale(0.925,1)" text-anchor="start">20</text>
<text transform="translate(678.80,635) scale(0.925,1)" text-anchor="start">27</text>
<text transform="translate(724.80,635) scale(0.925,1)" text-anchor="start">5</text>
<text transform="translate(771.80,635) scale(0.925,1)" text-anchor="start">12</text>
<text transform="translate(816.80,635) scale(0.925,1)" text-anchor="start">19</text>
<text transform="translate(853.80,635) scale(0.925,1)" text-anchor="start">26</text>
<text transform="translate(899.80,635) scale(0.925,1)" text-anchor="start">2</text>
<text transform="translate(936.80,635) scale(0.925,1)" text-anchor="start">9</text>
<text transform="translate(983.80,635) scale(0.925,1)" text-anchor="start">16</text>
<text transform="translate(1028.80,635) scale(0.925,1)" text-anchor="start">23</text>
<text transform="translate(1074.80,635) scale(0.925,1)" text-anchor="start">30</text>
<text transform="translate(1121.80,635) scale(0.925,1)" text-anchor="start">7</text>
<text transform="translate(1166.80,635) scale(0.925,1)" text-anchor="start">14</text>
<text transform="translate(1194.80,635) scale(0.925,1)" text-anchor="start">21</text>
<text transform="translate(1240.80,635) scale(0.925,1)" text-anchor="start">28</text>
<text transform="translate(1286.80,635) scale(0.925,1)" text-anchor="start">4</text>
<text transform="translate(125.80,647) scale(0.925,1)" text-anchor="start">December</text>
<text transform="translate(319.80,647) scale(0.925,1)" text-anchor="start">2012</text>
<text transform="translate(512.80,647) scale(0.925,1)" text-anchor="start">February</text>
<text transform="translate(706.80,647) scale(0.925,1)" text-anchor="start">March</text>
<text transform="translate(899.80,647) scale(0.925,1)" text-anchor="start">April</text>
<text transform="translate(1084.80,647) scale(0.925,1)" text-anchor="start">May</text>
<text transform="translate(1277.80,647) scale(0.925,1)" text-anchor="start">June</text>
<text transform="translate(668.70,10) scale(0.925,1)" text-anchor="middle" textLength="223.8" lengthAdjust="spacing">SIMP (1,260.00, 1,270.00, 1,230.00, 1,260.00, +0.00)</text>
<text transform="translate(668.00,529) scale(0.925,1)" text-anchor="middle" textLength="83.2" lengthAdjust="spacing">Volume (7,665,500)</text>
<text x="3.3" y="623" font-size="6" textLength="17.5" lengthAdjust="spacingAndGlyphs" fill="#333">x 1000</text>
<text x="1302.3" y="623" font-size="6" textLength="17.5" lengthAdjust="spacingAndGlyphs" fill="#333">x 1000</text>
</g>
</svg>
</body>
</html>
